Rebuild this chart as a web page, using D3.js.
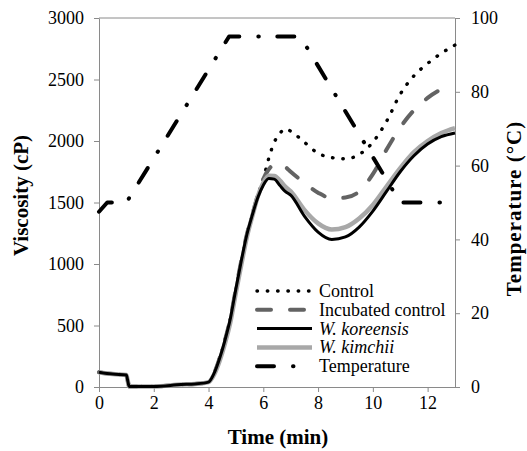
<!DOCTYPE html>
<html>
<head>
<meta charset="utf-8">
<script src="https://cdn.jsdelivr.net/npm/d3@7"></script>
<style>
  body { margin: 0; background: #fff; }
  svg text { font-family: "Liberation Serif", "Times New Roman", Times, "DejaVu Serif", serif; }
</style>
</head>
<body>
<div id="chart"></div>
<script>
// Viscosity (RVA) profiles with temperature on a second axis

// Pt. 0 - DATA

const time = [0, 0.5, 1.0, 1.05, 1.1, 2, 3, 3.5, 4.0, 4.2, 4.4, 4.6, 4.8, 5.0, 5.2, 5.4, 5.6, 5.8,
              6.0, 6.2, 6.4, 6.6, 6.8, 7.0, 7.5, 8.0, 8.5, 9.0, 9.5, 10.0, 10.5, 11.0, 11.5, 12.0, 12.5, 13.0];

const control =    [120, 105, 98, 50, 5, 5, 20, 25, 40, 110, 230, 380, 560, 800, 1030, 1240, 1400, 1560,
                    1690, 1860, 1990, 2060, 2100, 2080, 1990, 1900, 1865, 1855, 1890, 1990, 2160, 2380, 2530, 2630, 2713, 2780];
const incubated =  [120, 105, 98, 50, 5, 5, 20, 25, 40, 110, 230, 380, 560, 800, 1030, 1240, 1400, 1560,
                    1690, 1770, 1810, 1815, 1790, 1750, 1660, 1580, 1535, 1540, 1590, 1730, 1930, 2110, 2250, 2350, 2420, 2460];
const koreensis =  [120, 105, 98, 50, 5, 5, 20, 25, 40, 110, 230, 380, 560, 800, 1030, 1240, 1400, 1540,
                    1640, 1695, 1690, 1640, 1590, 1560, 1390, 1260, 1200, 1220, 1300, 1430, 1590, 1750, 1880, 1975, 2035, 2065];
const kimchii =    [120, 105, 98, 50, 5, 5, 20, 25, 40, 100, 210, 355, 530, 770, 1000, 1220, 1390, 1550,
                    1660, 1718, 1715, 1680, 1630, 1590, 1440, 1330, 1280, 1300, 1370, 1480, 1630, 1780, 1910, 2000, 2065, 2105];

const tempTime = [0, 0.3, 1, 4.75, 7.35, 11, 13];
const tempVals = [47.5, 50, 50, 95, 95, 50, 50];

const xTicks = [0, 2, 4, 6, 8, 10, 12];
const yTicks = [0, 500, 1000, 1500, 2000, 2500, 3000];
const y2Ticks = [0, 20, 40, 60, 80, 100];

// Pt. 1 - SERIES SETUP

const series = [
    { name: "Control", values: control, color: "#000", width: 3.4, dash: "0.5,9.8", cap: "round", italic: false },
    { name: "Incubated control", values: incubated, color: "#636363", width: 4, dash: "14,19", cap: "round", italic: false },
    { name: "W. kimchii", values: kimchii, color: "#a8a8a8", width: 4.5, dash: null, cap: "butt", italic: true },
    { name: "W. koreensis", values: koreensis, color: "#000", width: 3, dash: null, cap: "butt", italic: true }
];
const tempStyle = { name: "Temperature", color: "#000", width: 4, dash: "17,19,0.5,18.5", cap: "round" };

// legend order as in the picture
const legendOrder = ["Control", "Incubated control", "W. koreensis", "W. kimchii", "Temperature"];

const serif = '"Liberation Serif", "Times New Roman", Times, "DejaVu Serif", serif';

// Pt. 2 - "TYPE SETTING"

const width = 527,
      height = 451,
      margin = ({ top: 18, right: 72, bottom: 64, left: 99 });

let svg = d3.select("#chart")
    .append("svg")
    .attr("width", width)
    .attr("height", height);

let x = d3.scaleLinear()
    .domain([0, 13])
    .range([margin.left, width - margin.right]);

let y = d3.scaleLinear()
    .domain([0, 3000])
    .range([height - margin.bottom, margin.top]);

let y2 = d3.scaleLinear()
    .domain([0, 100])
    .range([height - margin.bottom, margin.top]);

const axisColor = "#8a8a8a";

// top border of the plot box
svg.append("line")
    .attr("x1", x(0)).attr("x2", x(13))
    .attr("y1", y(3000)).attr("y2", y(3000))
    .attr("stroke", axisColor);

// Pt. 3 - AXES

function styleAxis(g) {
    g.attr("font-family", serif).attr("font-size", 18);
    g.select(".domain").attr("stroke", axisColor);
    g.selectAll(".tick line").attr("stroke", axisColor);
    g.selectAll(".tick text").attr("fill", "#000");
}

svg.append("g")
    .attr("transform", `translate(0, ${height - margin.bottom})`)
    .call(d3.axisBottom(x).tickValues(xTicks).tickFormat(d3.format("d"))
        .tickSize(5).tickPadding(4).tickSizeOuter(0))
    .call(styleAxis);

svg.append("g")
    .attr("transform", `translate(${margin.left}, 0)`)
    .call(d3.axisLeft(y).tickValues(yTicks).tickFormat(d3.format("d"))
        .tickSize(5).tickPadding(10).tickSizeOuter(0))
    .call(styleAxis);

svg.append("g")
    .attr("transform", `translate(${width - margin.right}, 0)`)
    .call(d3.axisRight(y2).tickValues(y2Ticks).tickFormat(d3.format("d"))
        .tickSize(5).tickPadding(11).tickSizeOuter(0))
    .call(styleAxis);

// axis titles
svg.append("text")
    .text("Time (min)")
    .attr("x", 278)
    .attr("y", 444)
    .attr("text-anchor", "middle")
    .attr("font-family", serif)
    .style("font-weight", "bold")
    .style("font-size", "21px");

svg.append("text")
    .text("Viscosity (cP)")
    .attr("transform", "translate(28, 195.5) rotate(-90)")
    .attr("text-anchor", "middle")
    .attr("font-family", serif)
    .style("font-weight", "bold")
    .style("font-size", "21px");

svg.append("text")
    .text("Temperature (°C)")
    .attr("transform", "translate(521, 208.5) rotate(-90)")
    .attr("text-anchor", "middle")
    .attr("font-family", serif)
    .style("font-weight", "bold")
    .style("font-size", "21px")
    .style("letter-spacing", "1px");

// Pt. 4 - LINES

let line = d3.line()
    .x((d, i) => x(time[i]))
    .y(d => y(d))
    .curve(d3.curveMonotoneX);

// draw order: control, incubated, kimchii, koreensis, then temperature on top
for (let s of series) {
    svg.append("path")
        .datum(s.values)
        .attr("d", line)
        .attr("fill", "none")
        .attr("stroke", s.color)
        .attr("stroke-width", s.width)
        .attr("stroke-dasharray", s.dash)
        .attr("stroke-linecap", s.cap)
        .attr("stroke-linejoin", "round");
}

let tempLine = d3.line()
    .x((d, i) => x(tempTime[i]))
    .y(d => y2(d));

svg.append("path")
    .datum(tempVals)
    .attr("d", tempLine)
    .attr("fill", "none")
    .attr("stroke", tempStyle.color)
    .attr("stroke-width", tempStyle.width)
    .attr("stroke-dasharray", tempStyle.dash)
    .attr("stroke-linecap", tempStyle.cap)
    .attr("stroke-linejoin", "round");

// Pt. 5 - LEGEND

const allStyles = series.concat([tempStyle]);
let legend = svg.append("g").attr("class", "legend").attr("font-family", serif);

legendOrder.forEach((name, i) => {
    let s = allStyles.find(d => d.name === name);
    let ly = 291 + i * 18.8;
    legend.append("line")
        .attr("x1", 257).attr("x2", 312)
        .attr("y1", ly).attr("y2", ly)
        .attr("stroke", s.color)
        .attr("stroke-width", s.width)
        .attr("stroke-dasharray", s.dash)
        .attr("stroke-linecap", s.cap);
    legend.append("text")
        .text(name)
        .attr("x", 319)
        .attr("y", ly + 6)
        .style("font-size", "18px")
        .style("font-style", s.italic ? "italic" : "normal");
});
</script>
</body>
</html>
